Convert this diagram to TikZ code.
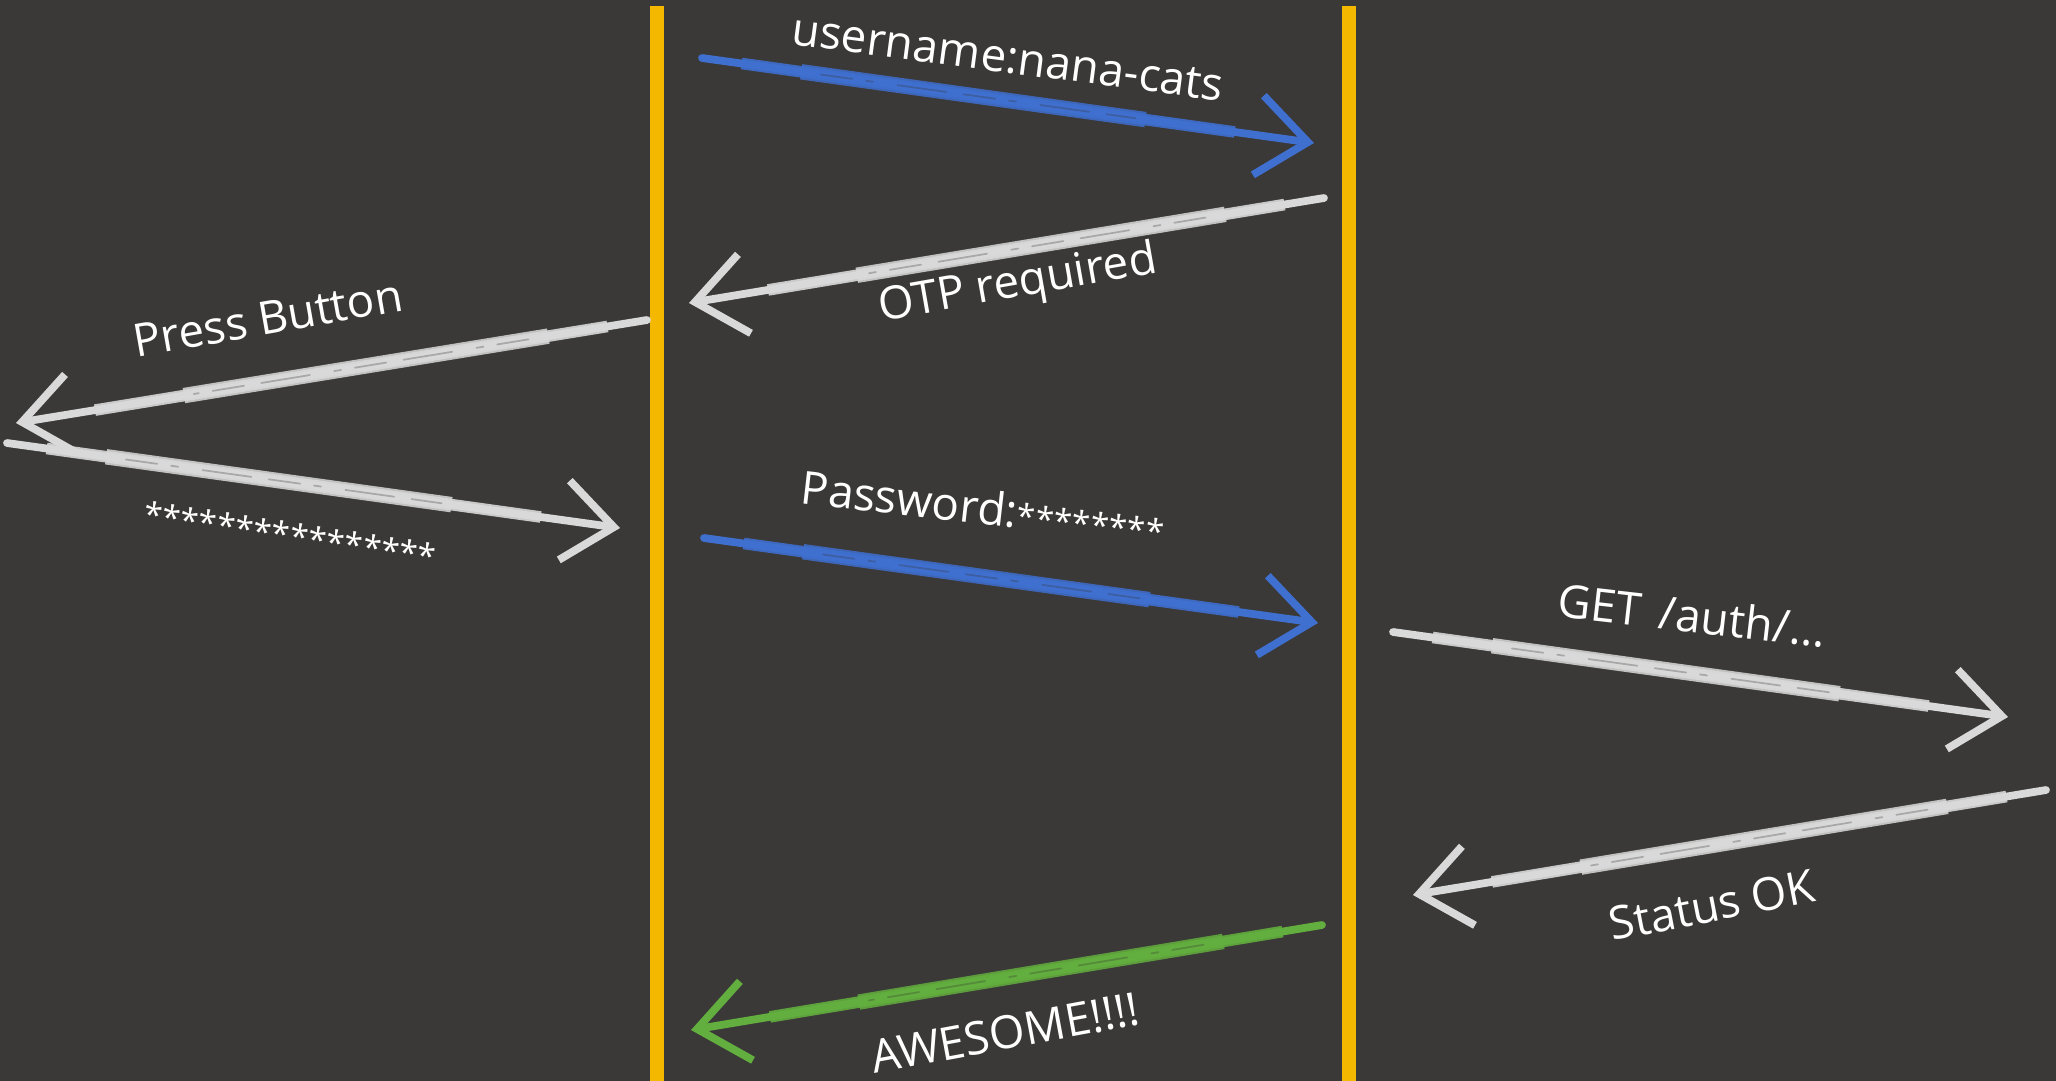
\documentclass[tikz,border=0pt]{standalone}
\usepackage{fontspec}
\setmainfont{Open Sans}
\usetikzlibrary{arrows.meta}
\definecolor{boardBg}{HTML}{3A3937}
\definecolor{laneGold}{HTML}{F5B800}
\definecolor{chalkBlue}{HTML}{3F6FCF}
\definecolor{chalkWhite}{HTML}{D9D9D9}
\definecolor{chalkGreen}{HTML}{62AE3E}
\tikzset{
  lane/.style={line width=4pt, laneGold},
  chalk/.style={draw=#1, line width=2.2pt, line cap=round,
    -{Straight Barb[length=5mm,width=8mm,line width=2.2pt]},
    preaction={draw=#1, -, line width=3.3pt, opacity=0.9,
      shorten <=4mm, shorten >=8mm},
    preaction={draw=#1, -, line width=4.4pt, opacity=0.85,
      shorten <=10mm, shorten >=17mm},
    postaction={draw=boardBg, -, line width=0.5pt, opacity=0.3,
      dash pattern=on 9pt off 4pt on 2pt off 7pt on 14pt off 5pt,
      shorten <=12mm, shorten >=18mm}},
  msg/.style={text=white, font=\fontsize{13}{15}\selectfont, inner sep=0pt},
  stars/.style={msg, font=\fontsize{9.5}{11}\selectfont}
}

\begin{document}
\begin{tikzpicture}[x=0.01cm,y=-0.01cm]
  \fill[boardBg] (0,0) rectangle (2056,1081);
  \useasboundingbox (0,0) rectangle (2056,1081);

  % the two lifelines
  \coordinate (browserTop) at (657,6);  \coordinate (browserBot) at (657,1081);
  \coordinate (serverTop) at (1349,6);  \coordinate (serverBot) at (1349,1081);
  \draw[lane] (browserTop) -- (browserBot);
  \draw[lane] (serverTop) -- (serverBot);

  % arrow ends
  \coordinate (userA) at (702,58);   \coordinate (userB) at (1314,143);
  \coordinate (otpA) at (1324,198);  \coordinate (otpB) at (689,303);
  \coordinate (pressA) at (647,320); \coordinate (pressB) at (16,423);
  \coordinate (starsA) at (7,443);   \coordinate (starsB) at (620,528);
  \coordinate (passA) at (704,538);  \coordinate (passB) at (1318,623);
  \coordinate (getA) at (1393,632);  \coordinate (getB) at (2008,717);
  \coordinate (okA) at (2046,790);   \coordinate (okB) at (1413,895);
  \coordinate (yayA) at (1322,925);  \coordinate (yayB) at (691,1030);

  \foreach \m/\c in {user/chalkBlue,otp/chalkWhite,press/chalkWhite,stars/chalkWhite,
                     pass/chalkBlue,get/chalkWhite,ok/chalkWhite,yay/chalkGreen}
    \draw[chalk=\c] (\m A) -- (\m B);

  % labels
  \node[msg, rotate=-7.5] (userLbl) at (1008,58) {username:nana-cats};
  \node[msg, rotate=10] (otpLbl) at (1018,285) {OTP required};
  \node[msg, rotate=10] (pressLbl) at (268,318) {Press Button};
  \node[stars, rotate=-8.5] (starsLbl) at (290,535) {****************};
  \node[msg, rotate=-6.5] (passLbl) at (983,507) {Password:{\fontsize{9.5}{11}\selectfont ********}};
  \node[msg, rotate=-6.5] (getLbl) at (1692,615) {GET\hspace{0.4em}/auth/\ldots};
  \node[msg, rotate=11] (okLbl) at (1712,905) {Status OK};
  \node[msg, rotate=10.5] (yayLbl) at (1005,1033) {AWESOME!!!!};
\end{tikzpicture}
\end{document}
